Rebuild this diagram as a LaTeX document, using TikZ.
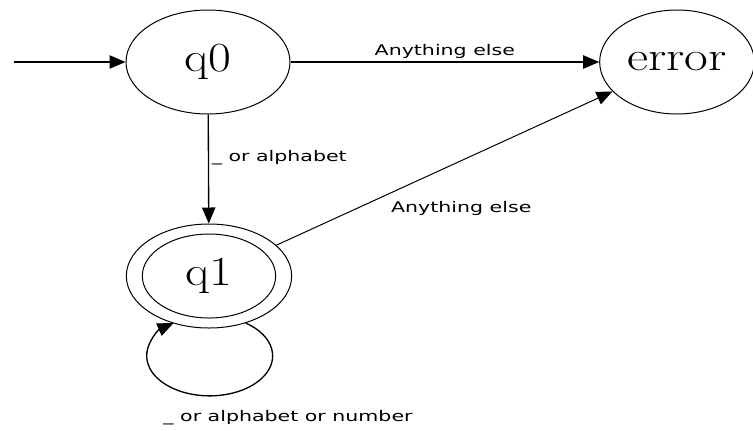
\documentclass[tikz,border=0pt]{standalone}
\usepackage{fontspec}
\newfontfamily\labelfont{DejaVu Sans}
\usetikzlibrary{shapes.geometric,arrows.meta}
\tikzset{every picture/.style={line width=0.75pt}}
\tikzset{
  state/.style={draw, ellipse, inner sep=0pt, minimum width=123pt, minimum height=78pt, font=\fontsize{31}{36}\selectfont},
  trans/.style={-{Triangle[length=12pt,width=10pt]}, line width=1pt},
  lbl/.style={font=\labelfont\fontsize{11}{13}\selectfont, inner sep=2pt},
}
\newcommand{\widetxt}[2][1.4]{\scalebox{#1}[1]{#2}}

\begin{document}
\begin{tikzpicture}[x=0.75pt,y=0.75pt,yscale=-1,xscale=1]
\path[use as bounding box] (0,0) rectangle (753,430);

% States
\node[state] (q0) at (208,62) {\widetxt[1.2]{q0}};
\node[state, minimum width=116pt] (error) at (677,62) {\widetxt[1.25]{error}};
\node[state, minimum width=124pt] (q1) at (209,276) {};
\node[state, minimum width=100pt, minimum height=63pt] (q1in) at (q1) {\widetxt[1.2]{q1}};

\coordinate (start) at (14,62);

% Transitions
\draw[trans] (start) -- (q0);
\draw[trans] (q0) -- node[lbl, above] {\widetxt{Anything else}} (error);
\draw[trans] (q0) -- node[lbl, right, pos=0.4] {\widetxt{\_ or alphabet}} (q1);
\draw[trans, line width=0.75pt] (q1) -- node[lbl, below=28pt, pos=0.55] {\widetxt{Anything else}} (error);
\draw[trans] (q1.-52) arc[start angle=-55, end angle=235, x radius=63, y radius=40];

% Loop label
\node[lbl] (looplbl) at (288,418) {\widetxt{\_ or alphabet or number}};

\end{tikzpicture}
\end{document}
